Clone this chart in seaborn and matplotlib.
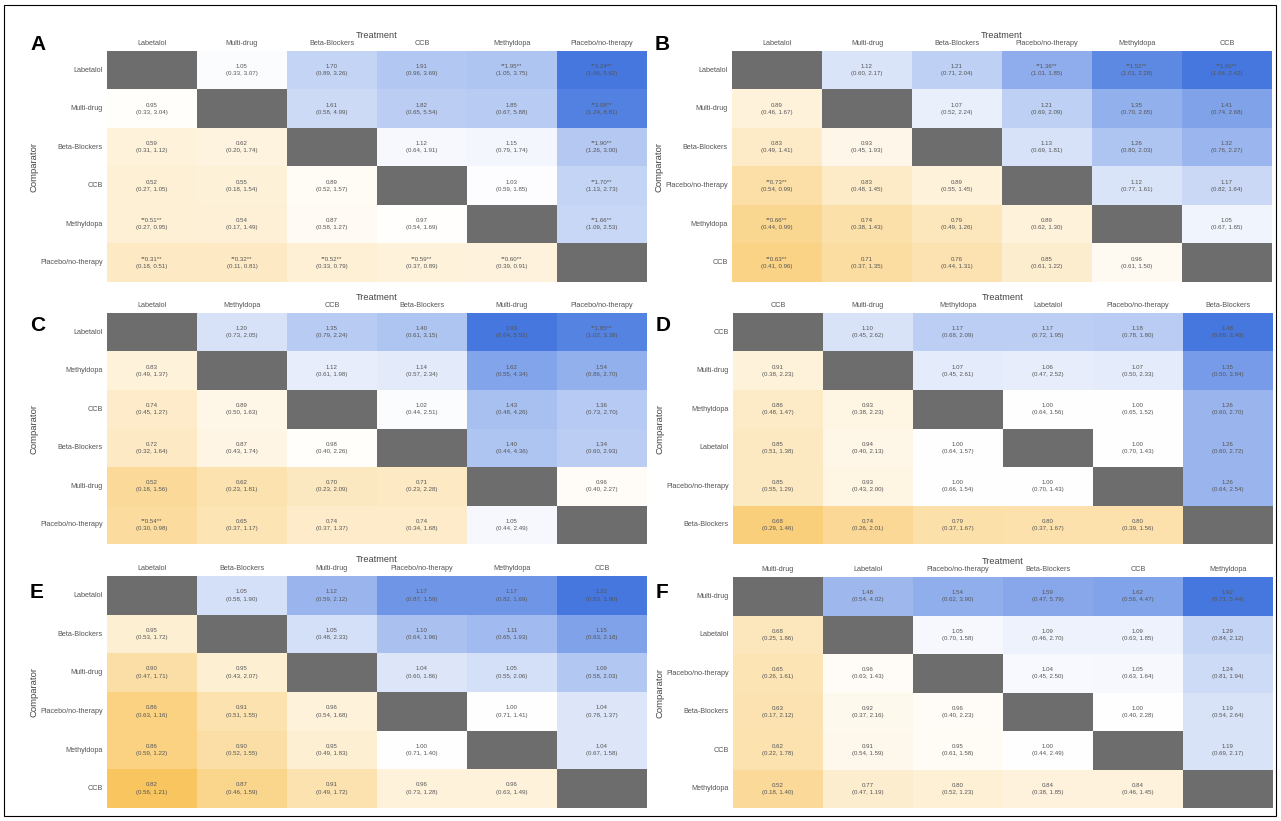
import numpy as np
import pandas as pd
import seaborn as sns
import matplotlib.pyplot as plt
from matplotlib.colors import LinearSegmentedColormap
from matplotlib.patches import Rectangle

nan = np.nan

# ---- data: row = comparator, column = treatment (odds ratio, 95% CI) ----
a_labels = ["Labetalol", "Multi-drug", "Beta-Blockers", "CCB", "Methyldopa", "Placebo/no-therapy"]
a_or = [[nan, 1.05, 1.70, 1.91, 1.95, 3.24],
        [0.95, nan, 1.61, 1.82, 1.85, 3.08],
        [0.59, 0.62, nan, 1.12, 1.15, 1.90],
        [0.52, 0.55, 0.89, nan, 1.03, 1.70],
        [0.51, 0.54, 0.87, 0.97, nan, 1.66],
        [0.31, 0.32, 0.52, 0.59, 0.60, nan]]
a_lo = [[nan, 0.33, 0.89, 0.96, 1.05, 1.96],
        [0.33, nan, 0.58, 0.65, 0.67, 1.24],
        [0.31, 0.20, nan, 0.64, 0.79, 1.26],
        [0.27, 0.18, 0.52, nan, 0.59, 1.13],
        [0.27, 0.17, 0.58, 0.54, nan, 1.09],
        [0.18, 0.11, 0.33, 0.37, 0.39, nan]]
a_hi = [[nan, 3.07, 3.26, 3.69, 3.75, 5.62],
        [3.04, nan, 4.99, 5.54, 5.88, 8.81],
        [1.12, 1.74, nan, 1.91, 1.74, 3.00],
        [1.05, 1.54, 1.57, nan, 1.85, 2.73],
        [0.95, 1.49, 1.27, 1.69, nan, 2.53],
        [0.51, 0.81, 0.79, 0.89, 0.91, nan]]

b_labels = ["Labetalol", "Multi-drug", "Beta-Blockers", "Placebo/no-therapy", "Methyldopa", "CCB"]
b_or = [[nan, 1.12, 1.21, 1.36, 1.52, 1.60],
        [0.89, nan, 1.07, 1.21, 1.35, 1.41],
        [0.83, 0.93, nan, 1.13, 1.26, 1.32],
        [0.73, 0.83, 0.89, nan, 1.12, 1.17],
        [0.66, 0.74, 0.79, 0.89, nan, 1.05],
        [0.63, 0.71, 0.76, 0.85, 0.96, nan]]
b_lo = [[nan, 0.60, 0.71, 1.01, 1.01, 1.04],
        [0.46, nan, 0.52, 0.69, 0.70, 0.74],
        [0.49, 0.45, nan, 0.69, 0.80, 0.76],
        [0.54, 0.48, 0.55, nan, 0.77, 0.82],
        [0.44, 0.38, 0.49, 0.62, nan, 0.67],
        [0.41, 0.37, 0.44, 0.61, 0.61, nan]]
b_hi = [[nan, 2.17, 2.04, 1.85, 2.28, 2.42],
        [1.67, nan, 2.24, 2.09, 2.65, 2.68],
        [1.41, 1.93, nan, 1.81, 2.03, 2.27],
        [0.99, 1.45, 1.45, nan, 1.61, 1.64],
        [0.99, 1.43, 1.26, 1.30, nan, 1.65],
        [0.96, 1.35, 1.31, 1.22, 1.50, nan]]

c_labels = ["Labetalol", "Methyldopa", "CCB", "Beta-Blockers", "Multi-drug", "Placebo/no-therapy"]
c_or = [[nan, 1.20, 1.35, 1.40, 1.93, 1.85],
        [0.83, nan, 1.12, 1.14, 1.62, 1.54],
        [0.74, 0.89, nan, 1.02, 1.43, 1.36],
        [0.72, 0.87, 0.98, nan, 1.40, 1.34],
        [0.52, 0.62, 0.70, 0.71, nan, 0.96],
        [0.54, 0.65, 0.74, 0.74, 1.05, nan]]
c_lo = [[nan, 0.73, 0.79, 0.61, 0.64, 1.02],
        [0.49, nan, 0.61, 0.57, 0.55, 0.86],
        [0.45, 0.50, nan, 0.44, 0.48, 0.73],
        [0.32, 0.43, 0.40, nan, 0.44, 0.60],
        [0.18, 0.23, 0.23, 0.23, nan, 0.40],
        [0.30, 0.37, 0.37, 0.34, 0.44, nan]]
c_hi = [[nan, 2.05, 2.24, 3.15, 5.52, 3.38],
        [1.37, nan, 1.98, 2.34, 4.34, 2.70],
        [1.27, 1.63, nan, 2.51, 4.26, 2.70],
        [1.64, 1.74, 2.26, nan, 4.36, 2.93],
        [1.56, 1.81, 2.09, 2.28, nan, 2.27],
        [0.98, 1.17, 1.37, 1.68, 2.49, nan]]

d_labels = ["CCB", "Multi-drug", "Methyldopa", "Labetalol", "Placebo/no-therapy", "Beta-Blockers"]
d_or = [[nan, 1.10, 1.17, 1.17, 1.18, 1.48],
        [0.91, nan, 1.07, 1.06, 1.07, 1.35],
        [0.86, 0.93, nan, 1.00, 1.00, 1.26],
        [0.85, 0.94, 1.00, nan, 1.00, 1.26],
        [0.85, 0.93, 1.00, 1.00, nan, 1.26],
        [0.68, 0.74, 0.79, 0.80, 0.80, nan]]
d_lo = [[nan, 0.45, 0.68, 0.72, 0.78, 0.68],
        [0.38, nan, 0.45, 0.47, 0.50, 0.50],
        [0.48, 0.38, nan, 0.64, 0.65, 0.60],
        [0.51, 0.40, 0.64, nan, 0.70, 0.60],
        [0.55, 0.43, 0.66, 0.70, nan, 0.64],
        [0.29, 0.26, 0.37, 0.37, 0.39, nan]]
d_hi = [[nan, 2.62, 2.09, 1.95, 1.80, 3.40],
        [2.23, nan, 2.61, 2.52, 2.33, 3.84],
        [1.47, 2.23, nan, 1.56, 1.52, 2.70],
        [1.38, 2.13, 1.57, nan, 1.43, 2.72],
        [1.29, 2.00, 1.54, 1.43, nan, 2.54],
        [1.46, 2.01, 1.67, 1.67, 1.56, nan]]

e_labels = ["Labetalol", "Beta-Blockers", "Multi-drug", "Placebo/no-therapy", "Methyldopa", "CCB"]
e_or = [[nan, 1.05, 1.12, 1.17, 1.17, 1.22],
        [0.95, nan, 1.05, 1.10, 1.11, 1.15],
        [0.90, 0.95, nan, 1.04, 1.05, 1.09],
        [0.86, 0.91, 0.96, nan, 1.00, 1.04],
        [0.86, 0.90, 0.95, 1.00, nan, 1.04],
        [0.82, 0.87, 0.91, 0.96, 0.96, nan]]
e_lo = [[nan, 0.58, 0.59, 0.87, 0.82, 0.83],
        [0.53, nan, 0.48, 0.64, 0.65, 0.63],
        [0.47, 0.43, nan, 0.60, 0.55, 0.58],
        [0.63, 0.51, 0.54, nan, 0.71, 0.78],
        [0.59, 0.52, 0.49, 0.71, nan, 0.67],
        [0.56, 0.46, 0.49, 0.73, 0.63, nan]]
e_hi = [[nan, 1.90, 2.12, 1.59, 1.69, 1.80],
        [1.72, nan, 2.33, 1.96, 1.93, 2.18],
        [1.71, 2.07, nan, 1.86, 2.06, 2.03],
        [1.16, 1.55, 1.68, nan, 1.41, 1.37],
        [1.22, 1.55, 1.83, 1.40, nan, 1.58],
        [1.21, 1.59, 1.72, 1.28, 1.49, nan]]

f_labels = ["Multi-drug", "Labetalol", "Placebo/no-therapy", "Beta-Blockers", "CCB", "Methyldopa"]
f_or = [[nan, 1.48, 1.54, 1.59, 1.62, 1.92],
        [0.68, nan, 1.05, 1.09, 1.09, 1.29],
        [0.65, 0.96, nan, 1.04, 1.05, 1.24],
        [0.63, 0.92, 0.96, nan, 1.00, 1.19],
        [0.62, 0.91, 0.95, 1.00, nan, 1.19],
        [0.52, 0.77, 0.80, 0.84, 0.84, nan]]
f_lo = [[nan, 0.54, 0.62, 0.47, 0.56, 0.71],
        [0.25, nan, 0.70, 0.46, 0.63, 0.84],
        [0.26, 0.63, nan, 0.45, 0.63, 0.81],
        [0.17, 0.37, 0.40, nan, 0.40, 0.54],
        [0.22, 0.54, 0.61, 0.44, nan, 0.69],
        [0.18, 0.47, 0.52, 0.38, 0.46, nan]]
f_hi = [[nan, 4.02, 3.90, 5.79, 4.47, 5.44],
        [1.86, nan, 1.58, 2.70, 1.85, 2.12],
        [1.61, 1.43, nan, 2.50, 1.64, 1.94],
        [2.12, 2.16, 2.23, nan, 2.28, 2.64],
        [1.78, 1.59, 1.58, 2.49, nan, 2.17],
        [1.40, 1.19, 1.23, 1.85, 1.45, nan]]

# ---- style ----
plt.rcParams['font.family'] = ['Liberation Sans', 'DejaVu Sans']
W, H = 1281, 821
cmap = LinearSegmentedColormap.from_list("or_bl", ["#f7b83c", "#ffffff", "#4577df"])
txt_col = "#555555"

# panel letter + heatmap box in pixels (left, top, right, bottom)
panels = [
    ("A", a_labels, a_or, a_lo, a_hi, (107, 51, 647, 282), 45),
    ("B", b_labels, b_or, b_lo, b_hi, (732, 51, 1272, 282), 45),
    ("C", c_labels, c_or, c_lo, c_hi, (107, 313, 647, 544), 325),
    ("D", d_labels, d_or, d_lo, d_hi, (733, 313, 1273, 544), 325),
    ("E", e_labels, e_or, e_lo, e_hi, (107, 576, 647, 808), 592),
    ("F", f_labels, f_or, f_lo, f_hi, (733, 577, 1273, 808), 592),
]


def cell_text(est, lo, hi):
    out = np.full(est.shape, "", dtype=object)
    for i in range(est.shape[0]):
        for j in range(est.shape[1]):
            if np.isnan(est[i, j]):
                continue
            v = f"{est[i, j]:.2f}"
            if lo[i, j] > 1 or hi[i, j] < 1:  # CI excludes 1
                v = f"**{v}**"
            out[i, j] = f"{v}\n({lo[i, j]:.2f}, {hi[i, j]:.2f})"
    return out


fig = plt.figure(figsize=(W / 100, H / 100), dpi=100)

for letter, labels, est, lo, hi, (x0, y0, x1, y1), ly in panels:
    est = np.array(est)
    lo = np.array(lo)
    hi = np.array(hi)
    ax = fig.add_axes([x0 / W, 1 - y1 / H, (x1 - x0) / W, (y1 - y0) / H])
    df = pd.DataFrame(est, index=labels, columns=labels)
    vmax = np.nanmax(est)
    sns.heatmap(df, mask=np.isnan(est), cmap=cmap, vmin=2 - vmax, vmax=vmax,
                annot=cell_text(est, lo, hi), fmt="", cbar=False, ax=ax,
                annot_kws=dict(fontsize=4.4, color=txt_col, linespacing=1.6))
    ax.set_facecolor("#6d6d6d")
    ax.xaxis.tick_top()
    ax.tick_params(length=0, labelsize=5.2, colors=txt_col, pad=3)
    ax.set_xticklabels(labels, rotation=0)
    ax.set_yticklabels(labels, rotation=0)
    ax.set_xlabel("")
    ax.set_ylabel("")

    fig.text((x0 + x1) / 2 / W, 1 - (y0 - 16) / H, "Treatment", ha="center",
             va="center", fontsize=6.6, color="#444444")
    fig.text((x0 - 73) / W, 1 - (y0 + y1) / 2 / H, "Comparator", rotation=90,
             ha="center", va="center", fontsize=6.8, color="#444444")
    fig.text((x0 - 77) / W, 1 - ly / H, letter, ha="left", va="center",
             fontsize=15, fontweight="bold", color="black")

# thin frame around the whole figure
fig.patches.append(Rectangle((4 / W, 5 / H), 1 - 9 / W, 1 - 10 / H, transform=fig.transFigure,
                             fill=False, edgecolor="black", linewidth=0.8))

fig.savefig("out.png", dpi=100)
